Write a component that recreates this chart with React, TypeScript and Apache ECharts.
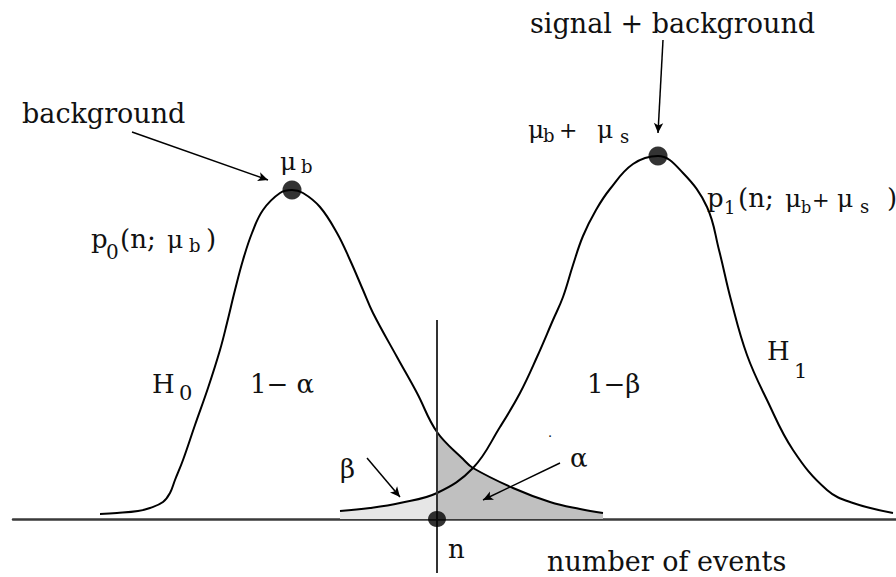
import React, { useEffect, useRef } from "react";
import * as echarts from "echarts";

const SERIF = "DejaVu Serif, serif";

// Number of events (x) against probability (height above the axis).
// p0(n; μb): background only, hypothesis H0
const backgroundCurve: [number, number][] = [
  [10.0, 0.5], [11.7, 0.6], [13.8, 0.8], [15.0, 1.1], [16.3, 1.7], [17.0, 2.6],
  [17.5, 3.9], [18.3, 5.9], [19.5, 9.4], [20.8, 13.1], [22.0, 16.9], [22.7, 19.6],
  [23.5, 22.9], [24.3, 25.9], [25.2, 28.6], [26.3, 30.9], [28.0, 32.6], [29.2, 32.9],
  [30.3, 32.6], [32.0, 31.2], [33.7, 28.6], [35.0, 25.9], [36.3, 22.9], [37.3, 20.6],
  [39.7, 16.2], [41.7, 12.6], [43.7, 8.7], [46.3, 6.0], [47.3, 5.1], [51.3, 3.1],
  [55.0, 1.7], [58.0, 1.0], [60.3, 0.6],
];

// p1(n; μb+μs): signal + background, hypothesis H1
const signalCurve: [number, number][] = [
  [34.0, 0.8], [37.0, 1.1], [40.0, 1.6], [43.7, 2.6], [47.3, 5.1], [50.0, 9.2],
  [52.0, 12.6], [53.7, 16.2], [55.3, 19.9], [56.3, 22.2], [57.3, 25.4], [58.3, 28.3],
  [59.6, 30.9], [61.0, 33.0], [63.3, 35.5], [65.8, 36.3], [68.3, 34.6], [70.7, 31.2],
  [71.9, 26.9], [73.1, 21.9], [74.7, 16.4], [76.7, 11.9], [79.3, 6.9], [82.7, 2.9],
  [85.3, 1.6], [89.3, 0.6],
];

// critical number of events n and the extent of its marker line
const cutN = 43.7;
const cutLineTop = 19.9;
const cutLineBottom = -5.4;

// annotation arrows: [from, to] in axis units
const arrows: [number, number][][] = [
  [[13.2, 38.7], [26.8, 33.9]], // background
  [[66.3, 47.9], [65.8, 38.6]], // signal + background
  [[36.7, 6.1], [40.0, 2.2]], // β
  [[56.0, 5.6], [48.3, 1.9]], // α
];

// text pieces: [text, x, baseline, font size]
const textPieces: [string, number, number, number][] = [
  ["background", 22, 123, 27],
  ["signal + background", 530, 33, 27],
  ["μ", 280, 170, 25], ["b", 301, 173, 18],
  ["p", 91, 248, 26], ["0", 106, 259, 20], ["(n;", 120, 248, 26],
  ["μ", 167, 248, 25], ["b", 189, 252, 18], [")", 206, 248, 26],
  ["μ", 528, 138, 25], ["b", 543, 142, 18], ["+", 559, 138, 22],
  ["μ", 597, 138, 25], ["s", 620, 143, 18],
  ["p", 707, 207, 26], ["1", 724, 214, 18], ["(n;", 738, 207, 26],
  ["μ", 785, 207, 25], ["b", 801, 213, 16], ["+", 812, 207, 21],
  ["μ", 837, 207, 25], ["s", 860, 213, 18], [")", 887, 207, 26],
  ["H", 152, 393, 26], ["0", 179, 400, 21],
  ["1− α", 250, 393, 26],
  ["1−β", 587, 393, 26],
  ["H", 767, 360, 26], ["1", 794, 378, 21],
  ["β", 340, 478, 26],
  ["α", 570, 467, 26],
  [".", 548, 437, 13],
  ["n", 448, 558, 26],
  ["number of events", 547, 571, 27],
];

const peakOf = (c: [number, number][]) => c.reduce((a, b) => (b[1] > a[1] ? b : a));

export default function App() {
  const ref = useRef<HTMLDivElement>(null);

  useEffect(() => {
    if (!ref.current) return;
    const chart = echarts.init(ref.current, null, { renderer: "svg" });

    const alphaTail = backgroundCurve.filter((p) => p[0] >= cutN);
    const betaTail = signalCurve.filter((p) => p[0] <= cutN);
    const smooth = 0.4;

    const graphic = textPieces.map(([text, x, base, size]) => ({
      type: "text",
      x,
      y: base - 0.35 * size,
      silent: true,
      style: {
        text,
        fill: "#111",
        font: `${size}px ${SERIF}`,
        textAlign: "left",
        textVerticalAlign: "middle",
      },
    }));

    chart.setOption({
      animation: false,
      backgroundColor: "#ffffff",
      grid: { left: 13, right: 0, top: 0, bottom: 0 },
      xAxis: {
        type: "value",
        min: 1.3,
        max: 89.6,
        axisLine: { show: true, onZero: true, lineStyle: { color: "#3a3a3a", width: 2.5 } },
        axisTick: { show: false },
        axisLabel: { show: false },
        splitLine: { show: false },
      },
      yAxis: {
        type: "value",
        min: -5.8,
        max: 51.9,
        show: false,
        splitLine: { show: false },
      },
      series: [
        {
          name: "α",
          type: "line",
          data: alphaTail,
          smooth,
          symbol: "none",
          silent: true,
          lineStyle: { width: 0 },
          areaStyle: { color: "#c0c0c0", opacity: 1 },
          z: 1,
        },
        {
          name: "β",
          type: "line",
          data: betaTail,
          smooth,
          symbol: "none",
          silent: true,
          lineStyle: { width: 0 },
          areaStyle: { color: "#e6e6e6", opacity: 1 },
          z: 1,
        },
        {
          name: "H0",
          type: "line",
          data: backgroundCurve,
          smooth,
          symbol: "none",
          silent: true,
          lineStyle: { color: "#000", width: 2 },
          z: 3,
        },
        {
          name: "H1",
          type: "line",
          data: signalCurve,
          smooth,
          symbol: "none",
          silent: true,
          lineStyle: { color: "#000", width: 2 },
          z: 3,
        },
        {
          name: "n",
          type: "line",
          data: [[cutN, cutLineTop], [cutN, cutLineBottom]],
          symbol: "none",
          silent: true,
          lineStyle: { color: "#333", width: 2 },
          z: 4,
          markLine: {
            silent: true,
            symbol: ["none", "arrow"],
            symbolSize: [7, 10],
            label: { show: false },
            lineStyle: { color: "#000", width: 1.5, type: "solid" },
            data: arrows.map(([a, b]) => [{ coord: a }, { coord: b }]),
          },
        },
        {
          name: "points",
          type: "scatter",
          silent: true,
          z: 5,
          itemStyle: { color: "#000" },
          data: [
            { value: peakOf(backgroundCurve), symbolSize: 19 },
            { value: peakOf(signalCurve), symbolSize: 19 },
            { value: [cutN, 0], symbolSize: [18, 16] },
          ],
        },
      ],
      graphic,
    });

    return () => chart.dispose();
  }, []);

  return (
    <div
      ref={ref}
      style={{ position: "absolute", left: 0, top: 0, width: 896, height: 577, background: "#fff" }}
    />
  );
}
